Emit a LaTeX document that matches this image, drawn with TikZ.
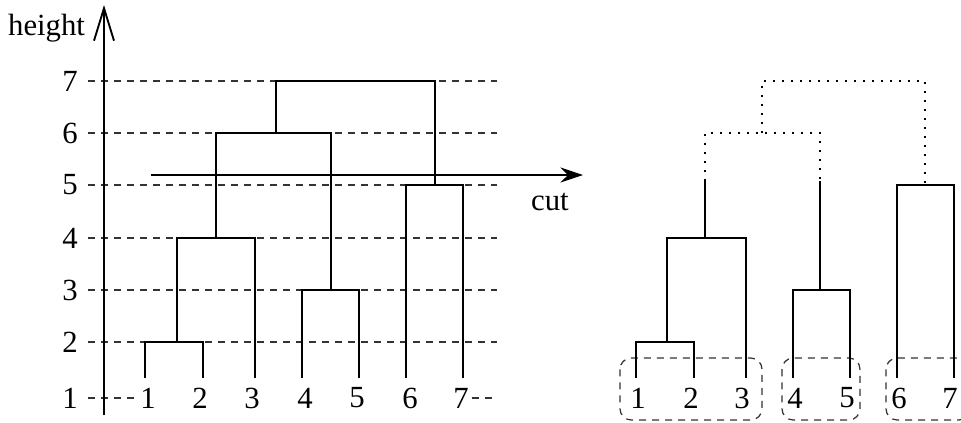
\documentclass[tikz,border=0pt]{standalone}
\usepackage{fontspec}
\setmainfont{Liberation Serif}
\usetikzlibrary{arrows.meta}
\definecolor{gridstroke}{HTML}{333333}
\definecolor{treestroke}{HTML}{000000}
\tikzset{
  leaf/.style={inner sep=1pt, fill=white, font=\fontsize{12.3}{14}\selectfont},
  levellabel/.style={inner sep=1pt, font=\fontsize{12.3}{14}\selectfont},
  gridline/.style={draw=gridstroke, line width=0.5pt, dash pattern=on 2.8pt off 2.4pt},
  branch/.style={draw=treestroke, line width=0.75pt},
  cutbranch/.style={draw=treestroke, line width=0.75pt, dash pattern=on 0.7pt off 2.9pt},
  cluster/.style={draw=gridstroke, line width=0.5pt, dash pattern=on 2.8pt off 2.4pt,
    rounded corners=4.5pt},
  axis/.style={-{Straight Barb[length=13pt,width=8pt]}, draw=treestroke, line width=0.75pt},
  cutline/.style={-{Stealth[length=9pt,width=6pt,inset=3pt]}, draw=treestroke, line width=0.5pt}
}

\begin{document}
\begin{tikzpicture}[x=0.4pt,y=-0.4pt]
  \useasboundingbox (0,0) rectangle (961,422);

  % height axis and level labels
  \coordinate (origin) at (104,415);
  \coordinate (axistop) at (104,5);
  \node[levellabel,anchor=base east] (hlabel) at (88,35) {height};
  \node[levellabel] (y1) at (70,398) {1};
  \node[levellabel] (y2) at (70,342) {2};
  \node[levellabel] (y3) at (70,290) {3};
  \node[levellabel] (y4) at (70,238) {4};
  \node[levellabel] (y5) at (70,185) {5};
  \node[levellabel] (y6) at (70,133) {6};
  \node[levellabel] (y7) at (70,81) {7};

  % leaf labels, full tree
  \node[leaf] (l1) at (148,398) {1};
  \node[leaf] (l2) at (200,398) {2};
  \node[leaf] (l3) at (252,398) {3};
  \node[leaf] (l4) at (305,398) {4};
  \node[leaf] (l5) at (357,398) {5};
  \node[leaf] (l6) at (410,398) {6};
  \node[leaf] (l7) at (461,398) {7};

  % dashed level lines
  \draw[gridline] (88,81) -- (497,81);
  \draw[gridline] (88,133) -- (497,133);
  \draw[gridline] (88,185) -- (497,185);
  \draw[gridline] (88,238) -- (497,238);
  \draw[gridline] (88,290) -- (497,290);
  \draw[gridline] (88,342) -- (497,342);
  \draw[gridline] (88,398) -- (l1.west);
  \draw[gridline] (l7.east) -- (497,398);

  \draw[axis] (origin) -- (axistop);

  % full dendrogram
  \coordinate (a1) at (145,378);
  \coordinate (a2) at (203,378);
  \coordinate (a3) at (255,378);
  \coordinate (a4) at (302,378);
  \coordinate (a5) at (359,378);
  \coordinate (a6) at (406,378);
  \coordinate (a7) at (463,378);
  \coordinate (m12) at (177,342);
  \coordinate (m123) at (216,238);
  \coordinate (m45) at (331,290);
  \coordinate (m67) at (435,185);
  \coordinate (m6) at (276,133);
  \coordinate (m7) at (356,81);
  \draw[branch] (a1) |- (m12) -| (a2);
  \draw[branch] (m12) |- (m123) -| (a3);
  \draw[branch] (a4) |- (m45) -| (a5);
  \draw[branch] (a6) |- (m67) -| (a7);
  \draw[branch] (m123) |- (m6) -| (m45);
  \draw[branch] (m6) |- (m7) -| (m67);

  % cut through the tree
  \coordinate (cutstart) at (151,175);
  \coordinate (cutend) at (583,175);
  \draw[cutline] (cutstart) -- (cutend);
  \node[levellabel] (cutlabel) at (550,202) {cut};

  % leaf labels, tree after the cut
  \node[leaf] (r1) at (638,398) {1};
  \node[leaf] (r2) at (691,398) {2};
  \node[leaf] (r3) at (742,398) {3};
  \node[leaf] (r4) at (795,398) {4};
  \node[leaf] (r5) at (847,398) {5};
  \node[leaf] (r6) at (899,398) {6};
  \node[leaf] (r7) at (950,398) {7};

  % resulting clusters
  \draw[cluster] (620,358) rectangle (762,420);
  \draw[cluster] (782,358) rectangle (860,420);
  \draw[cluster] (886,358) rectangle (970,420);

  \coordinate (b1) at (636,378);
  \coordinate (b2) at (694,378);
  \coordinate (b3) at (746,378);
  \coordinate (b4) at (793,378);
  \coordinate (b5) at (850,378);
  \coordinate (b6) at (897,378);
  \coordinate (b7) at (954,378);
  \coordinate (n12) at (667,342);
  \coordinate (n123) at (705,238);
  \coordinate (n45) at (820,290);
  \coordinate (n67) at (925,185);
  \coordinate (k123) at (705,181);
  \coordinate (k45) at (820,181);
  \coordinate (n6) at (762,133);
  \coordinate (n7) at (843,81);
  \draw[branch] (b1) |- (n12) -| (b2);
  \draw[branch] (n12) |- (n123) -| (b3);
  \draw[branch] (n123) -- (k123);
  \draw[branch] (b4) |- (n45) -| (b5);
  \draw[branch] (n45) -- (k45);
  \draw[branch] (b6) |- (n67) -| (b7);
  % links removed by the cut
  \draw[cutbranch] (k123) |- (n6) -| (k45);
  \draw[cutbranch] (n6) |- (n7) -| (n67);
\end{tikzpicture}
\end{document}
